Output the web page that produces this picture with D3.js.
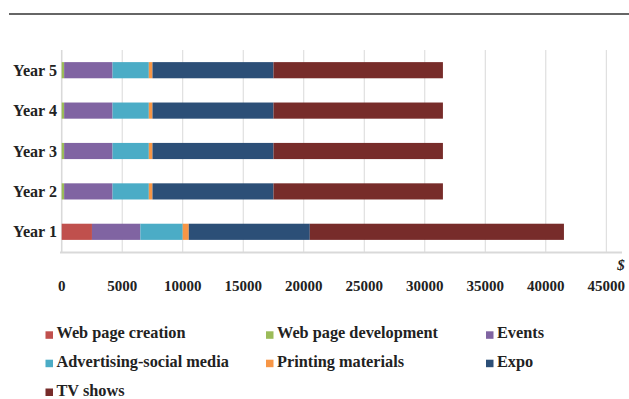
<!DOCTYPE html>
<html><head><meta charset="utf-8">
<script src="https://cdn.jsdelivr.net/npm/d3@7"></script>
<style>body{margin:0;background:#fff}svg{display:block}</style>
</head><body>
<script>
const years = ["Year 1","Year 2","Year 3","Year 4","Year 5"];
const seriesNames = ["Web page creation","Web page development","Events","Advertising-social media","Printing materials","Expo","TV shows"];
const webCreation = [2500, 0, 0, 0, 0];
const webDevelopment = [0, 200, 200, 200, 200];
const events = [4000, 4000, 4000, 4000, 4000];
const advertising = [3500, 3000, 3000, 3000, 3000];
const printing = [500, 300, 300, 300, 300];
const expo = [10000, 10000, 10000, 10000, 10000];
const tvShows = [21000, 14000, 14000, 14000, 14000];
const xTicks = [0,5000,10000,15000,20000,25000,30000,35000,40000,45000];
const colors = ["#C0504D","#9BBB59","#8064A2","#4BACC6","#F79646","#2C4F77","#772C2A"];

const allSeries = [webCreation, webDevelopment, events, advertising, printing, expo, tvShows];
const rows = years.map((y,i)=>{ const o={year:y}; seriesNames.forEach((s,j)=>o[s]=allSeries[j][i]); return o; });

const W=629,H=399;
const svg=d3.select("body").append("svg").attr("width",W).attr("height",H);
const font="'Liberation Serif','Times New Roman',serif";

// top rule
svg.append("line").attr("x1",9).attr("x2",629).attr("y1",14).attr("y2",14).attr("stroke","#666").attr("stroke-width",2);

const x=d3.scaleLinear().domain([0,45000]).range([61.7,606.3]);
const y=d3.scaleBand().domain(years.slice().reverse()).range([50,252]).paddingInner(0.6).paddingOuter(0.3);

// gridlines
svg.append("g").selectAll("line").data(xTicks).join("line")
  .attr("x1",d=>x(d)).attr("x2",d=>x(d)).attr("y1",50).attr("y2",252)
  .attr("stroke","#d9d9d9").attr("stroke-width",d=>d===0?1.6:1);
// bottom axis line
svg.append("line").attr("x1",60).attr("x2",622).attr("y1",252.5).attr("y2",252.5).attr("stroke","#d9d9d9").attr("stroke-width",2);

const stack=d3.stack().keys(seriesNames)(rows);
svg.append("g").selectAll("g").data(stack).join("g").attr("fill",(d,i)=>colors[i])
  .selectAll("rect").data(d=>d).join("rect")
  .attr("x",d=>x(d[0])).attr("width",d=>Math.max(0,x(d[1])-x(d[0])))
  .attr("y",d=>y(d.data.year)).attr("height",y.bandwidth());

// y labels (slightly condensed)
svg.append("g").selectAll("text").data(years).join("text")
  .attr("transform",d=>`translate(57,${y(d)+y.bandwidth()/2+5.5}) scale(0.92,1)`)
  .attr("text-anchor","end").attr("font-family",font).attr("font-weight","bold")
  .attr("font-size",17.5).attr("fill","#222").text(d=>d);

// x tick labels
svg.append("g").selectAll("text").data(xTicks).join("text")
  .attr("x",d=>x(d)).attr("y",290.7)
  .attr("text-anchor","middle").attr("font-family",font).attr("font-weight","bold")
  .attr("font-size",15).attr("fill","#222").text(d=>d);

svg.append("text").attr("x",621).attr("y",270).attr("text-anchor","middle")
  .attr("font-family",font).attr("font-weight","bold").attr("font-style","italic")
  .attr("font-size",15).attr("fill","#222").text("$");

// legend
const colX=[45.5,266,486], rowY=[338.3,366.7,395.5];
const leg=svg.append("g").selectAll("g").data(seriesNames).join("g")
  .attr("transform",(d,i)=>`translate(${colX[i%3]},${rowY[Math.floor(i/3)]})`);
leg.append("rect").attr("x",0).attr("y",-7).attr("width",7.5).attr("height",7.5).attr("fill",(d,i)=>colors[i]);
leg.append("text").attr("x",11).attr("y",0).attr("font-family",font).attr("font-weight","bold")
  .attr("font-size",16.3).attr("fill","#222").text(d=>d);
</script>
</body></html>
